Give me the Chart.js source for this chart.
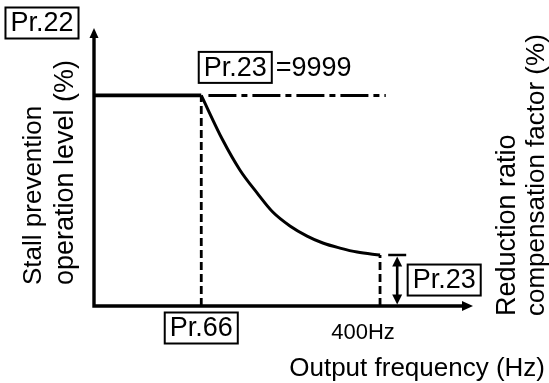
<!DOCTYPE html>
<html>
<head>
<meta charset="utf-8">
<script src="https://cdn.jsdelivr.net/npm/chart.js"></script>
<style>
  html, body { margin: 0; padding: 0; background: #fff; }
  #wrap { width: 549px; height: 383px; position: relative; }
</style>
</head>
<body>
<div id="wrap"><canvas id="c"></canvas></div>
<script>
// Stall prevention level (%) against output frequency (Hz) above the Pr.66 point
const freqHz   = [150, 180, 204, 228, 250, 274, 298, 320, 344, 368, 400];
const levelPct = [100, 78.8, 64.6, 53.7, 44.6, 38.0, 33.2, 29.9, 27.5, 25.6, 24.2];

const pr22Level  = 100;        // Pr.22 stall prevention operation level
const pr66Freq   = 150;        // Pr.66 reduction starting frequency
const topFreq    = 400;        // 400 Hz end point
const pr23Level  = 24.2;       // level left at 400 Hz (Pr.23)
const flatSpan   = [160, 408]; // Pr.23 = 9999: level stays flat
const arrowFreq  = 424;        // where the Pr.23 span arrow sits
const xMax = 530, yMax = 132;

const FONT = '"Liberation Sans", Arial, Helvetica, sans-serif';

function seg(a, b) { return [{ x: a[0], y: a[1] }, { x: b[0], y: b[1] }]; }
function lineSet(data, width, dash) {
  return {
    data, showLine: true, fill: false, borderColor: '#000', borderWidth: width,
    borderDash: dash || [], pointRadius: 0, pointHoverRadius: 0, clip: false,
    borderCapStyle: 'butt', borderJoinStyle: 'miter'
  };
}

const curveSet = lineSet(freqHz.map((f, i) => ({ x: f, y: levelPct[i] })), 3);
curveSet.cubicInterpolationMode = 'monotone';

const datasets = [
  lineSet(seg([0, pr22Level], [pr66Freq, pr22Level]), 3.8),
  curveSet,
  lineSet(seg([flatSpan[0], pr22Level], [flatSpan[1], pr22Level]), 3, [28, 5, 6, 5]),
  lineSet(seg([pr66Freq, 0], [pr66Freq, pr22Level]), 2.8, [8, 4]),
  lineSet(seg([topFreq, 0], [topFreq, pr23Level]), 2.8, [8, 4])
];

function arrowHead(ctx, tx, ty, dir, len, half) {
  // dir: 'up' | 'down' | 'right'
  ctx.beginPath();
  if (dir === 'up')    { ctx.moveTo(tx, ty); ctx.lineTo(tx - half, ty + len); ctx.lineTo(tx + half, ty + len); }
  if (dir === 'down')  { ctx.moveTo(tx, ty); ctx.lineTo(tx - half, ty - len); ctx.lineTo(tx + half, ty - len); }
  if (dir === 'right') { ctx.moveTo(tx, ty); ctx.lineTo(tx - len, ty - half); ctx.lineTo(tx - len, ty + half); }
  ctx.closePath();
  ctx.fill();
}

function boxLabel(ctx, text, cx, cy) {
  ctx.font = '27px ' + FONT;
  const w = ctx.measureText(text).width + 10, h = 31;
  ctx.fillStyle = '#fff';
  ctx.fillRect(cx - w / 2, cy - h / 2, w, h);
  ctx.lineWidth = 2;
  ctx.strokeStyle = '#000';
  ctx.strokeRect(cx - w / 2, cy - h / 2, w, h);
  ctx.fillStyle = '#000';
  ctx.textAlign = 'center';
  ctx.textBaseline = 'middle';
  ctx.fillText(text, cx, cy + 1);
  return { left: cx - w / 2, right: cx + w / 2 };
}

function rotatedText(ctx, text, x, y, size) {
  ctx.save();
  ctx.translate(x, y);
  ctx.rotate(-Math.PI / 2);
  ctx.font = size + 'px ' + FONT;
  ctx.textAlign = 'left';
  ctx.textBaseline = 'alphabetic';
  ctx.fillStyle = '#000';
  ctx.fillText(text, 0, 0);
  ctx.restore();
}

const diagramPlugin = {
  id: 'diagram',
  afterDatasetsDraw(chart) {
    const { ctx, scales: { x, y } } = chart;
    const x0 = x.getPixelForValue(0), y0 = y.getPixelForValue(0);
    const xEnd = x.getPixelForValue(xMax), yTop = y.getPixelForValue(yMax);
    ctx.save();
    ctx.strokeStyle = '#000';
    ctx.fillStyle = '#000';

    // axes with arrow heads
    ctx.lineWidth = 3.4;
    ctx.lineJoin = 'miter';
    ctx.beginPath();
    ctx.moveTo(x0, yTop + 8);
    ctx.lineTo(x0, y0);
    ctx.lineTo(xEnd - 8, y0);
    ctx.stroke();
    arrowHead(ctx, x0, yTop, 'up', 10, 4.5);
    arrowHead(ctx, xEnd, y0, 'right', 11, 5);

    // Pr.23 span: double arrow from the axis up to the 400 Hz level
    const ax = x.getPixelForValue(arrowFreq);
    const aTop = y.getPixelForValue(pr23Level);
    ctx.lineWidth = 2.6;
    ctx.beginPath();
    ctx.moveTo(ax - 9, aTop); ctx.lineTo(ax + 9, aTop);
    ctx.moveTo(ax, aTop + 8); ctx.lineTo(ax, y0 - 8);
    ctx.stroke();
    arrowHead(ctx, ax, aTop + 1.5, 'up', 10, 5);
    arrowHead(ctx, ax, y0 - 1.5, 'down', 10, 5);

    // boxed parameter labels
    boxLabel(ctx, 'Pr.22', x0 - 52, 23);
    const b23 = boxLabel(ctx, 'Pr.23', x.getPixelForValue(pr66Freq) + 34, y.getPixelForValue(pr22Level) - 28);
    ctx.font = '27px ' + FONT;
    ctx.textAlign = 'left';
    ctx.textBaseline = 'middle';
    ctx.fillText('=9999', b23.right + 4, y.getPixelForValue(pr22Level) - 27);
    boxLabel(ctx, 'Pr.66', x.getPixelForValue(pr66Freq), y0 + 22);
    boxLabel(ctx, 'Pr.23', ax + 47, y.getPixelForValue(pr23Level) + 25);

    // 400 Hz tick text
    ctx.font = '22px ' + FONT;
    ctx.textAlign = 'center';
    ctx.textBaseline = 'alphabetic';
    ctx.fillStyle = '#000';
    ctx.fillText('400Hz', x.getPixelForValue(topFreq) - 17, y0 + 33);

    // axis titles
    ctx.font = '26px ' + FONT;
    ctx.textAlign = 'right';
    ctx.fillText('Output frequency (Hz)', 545, 376);
    rotatedText(ctx, 'Stall prevention', 41, 285, 26);
    rotatedText(ctx, 'operation level (%)', 73, 285, 27);
    rotatedText(ctx, 'Reduction ratio', 515, 316, 27);
    rotatedText(ctx, 'compensation factor (%)', 544, 316, 26);
    ctx.restore();
  }
};

new Chart(document.getElementById('c'), {
  type: 'scatter',
  data: { datasets },
  options: {
    responsive: true,
    maintainAspectRatio: false,
    animation: false,
    events: [],
    layout: { padding: { left: 94, right: 76, top: 28, bottom: 77 } },
    scales: {
      x: { type: 'linear', min: 0, max: xMax, display: false },
      y: { type: 'linear', min: 0, max: yMax, display: false }
    },
    plugins: { legend: { display: false }, tooltip: { enabled: false } }
  },
  plugins: [diagramPlugin]
});
</script>
</body>
</html>
